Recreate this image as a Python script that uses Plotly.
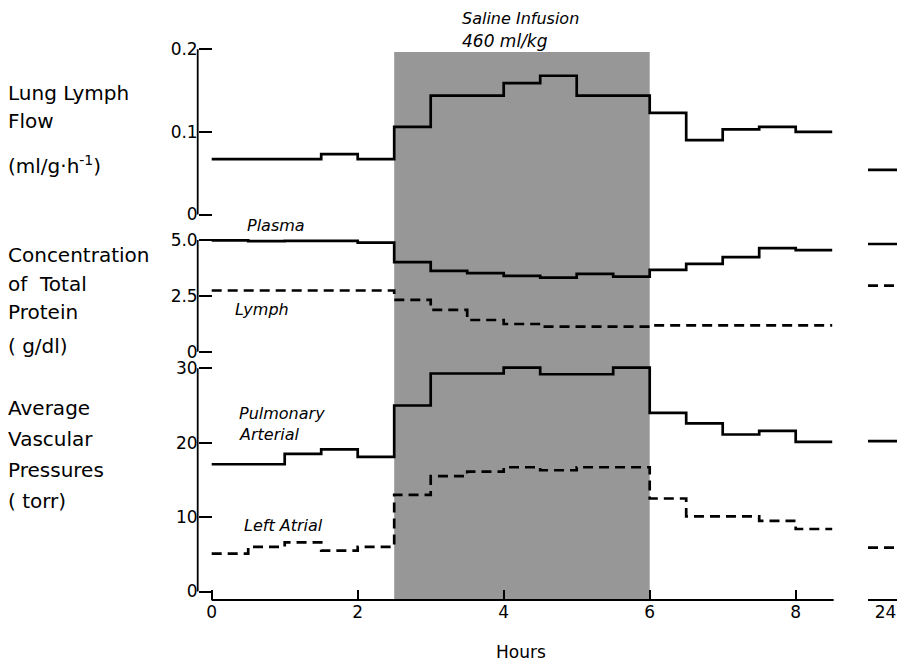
import plotly.graph_objects as go

# ---------------- data ----------------
# half-hour interval boundaries (hours)
hours = [0, 0.5, 1, 1.5, 2, 2.5, 3, 3.5, 4, 4.5, 5, 5.5, 6, 6.5, 7, 7.5, 8, 8.5]

# value held during each half-hour interval
lymph_flow = [0.067, 0.067, 0.067, 0.073, 0.067, 0.106, 0.144, 0.144, 0.159,
              0.168, 0.144, 0.144, 0.123, 0.090, 0.103, 0.106, 0.100]
plasma_protein = [4.98, 4.95, 4.96, 4.96, 4.88, 4.01, 3.62, 3.52, 3.39,
                  3.32, 3.48, 3.36, 3.66, 3.93, 4.23, 4.64, 4.55]
lymph_protein = [2.74, 2.74, 2.74, 2.74, 2.74, 2.32, 1.87, 1.42, 1.24,
                 1.12, 1.12, 1.12, 1.18, 1.18, 1.18, 1.18, 1.18]
pa_pressure = [17.1, 17.1, 18.5, 19.1, 18.1, 25.0, 29.3, 29.3, 30.1,
               29.2, 29.2, 30.1, 24.0, 22.6, 21.1, 21.6, 20.1]
la_pressure = [5.1, 6.0, 6.6, 5.5, 6.0, 13.0, 15.5, 16.1, 16.7,
               16.3, 16.7, 16.7, 12.5, 10.1, 10.1, 9.5, 8.4]

# values at 24 hours
day_24 = [24]
lymph_flow_24 = 0.054
plasma_protein_24 = 4.82
lymph_protein_24 = 2.96
pa_pressure_24 = 20.2
la_pressure_24 = 5.9

infusion_start, infusion_end = 2.5, 6.0
x_ticks = [0, 2, 4, 6, 8]
flow_ticks, flow_ticktext = [0, 0.1, 0.2], ["0", "0.1", "0.2"]
prot_ticks, prot_ticktext = [0, 2.5, 5], ["0", "2.5", "5.0"]
pres_ticks, pres_ticktext = [0, 10, 20, 30], ["0", "10", "20", "30"]

# ---------------- layout geometry ----------------
W, H = 905, 665
OFF = 8                          # page body margin that shifts the figure
FONT = "DejaVu Sans"
X0PX, PPX = 211.7, 73.0          # screen pixel of hour 0, pixels per hour
YAXIS_PX = 197.7                 # screen pixel x of the y-axis lines
XAXIS_PX = 600.0                 # screen pixel y of the x-axis line


def px_x(p):
    return (p - OFF) / W


def px_y(p):
    return 1 - (p - OFF) / H


def xdom(lo, hi):
    return [px_x(X0PX + lo * PPX), px_x(X0PX + hi * PPX)]


def ydom(lo, hi, v0, p0, v1, p1):
    ppu = (p0 - p1) / (v1 - v0)
    plo = p0 + (v0 - lo) * ppu
    phi = p0 - (hi - v0) * ppu
    return [px_y(plo), px_y(phi)]


def steps(vals):
    return hours, list(vals) + [vals[-1]]


fig = go.Figure()

SOLID = dict(color="black", width=2.7, shape="hv")
DASH = dict(color="black", width=2.7, shape="hv", dash="10px,6px")

series = [
    (lymph_flow, "y", SOLID),
    (plasma_protein, "y2", SOLID),
    (lymph_protein, "y2", DASH),
    (pa_pressure, "y3", SOLID),
    (la_pressure, "y3", DASH),
]
for vals, ya, ln in series:
    xs, ys = steps(vals)
    fig.add_trace(go.Scatter(x=xs, y=ys, mode="lines", line=ln,
                             xaxis="x", yaxis=ya, hoverinfo="skip"))

later = [
    (lymph_flow_24, "y", SOLID),
    (plasma_protein_24, "y2", SOLID),
    (lymph_protein_24, "y2", DASH),
    (pa_pressure_24, "y3", SOLID),
    (la_pressure_24, "y3", DASH),
]
for v, ya, ln in later:
    l2 = dict(ln)
    l2.pop("shape")
    fig.add_trace(go.Scatter(x=[day_24[0] - 0.5, day_24[0] + 0.5], y=[v, v],
                             mode="lines", line=l2, xaxis="x2", yaxis=ya,
                             hoverinfo="skip"))

# ---------------- axes ----------------
yax_common = dict(anchor="free", position=px_x(YAXIS_PX), showline=False,
                  showgrid=False, zeroline=False, ticks="inside", ticklen=13,
                  tickwidth=1.6, tickcolor="black", automargin=False,
                  tickfont=dict(family=FONT, size=17, color="black"))
xax_common = dict(anchor="free", position=px_y(XAXIS_PX), showline=False,
                  showgrid=False, zeroline=False, automargin=False,
                  tickfont=dict(family=FONT, size=17, color="black"))

r1 = [-0.003, 0.205]
r2 = [-0.1, 5.15]
r3 = [-0.5, 30.7]

fig.update_layout(
    template="none",
    width=W, height=H,
    margin=dict(l=0, r=0, t=0, b=0, pad=0, autoexpand=False),
    paper_bgcolor="white", plot_bgcolor="rgba(0,0,0,0)",
    showlegend=False,
    xaxis=dict(domain=xdom(-0.05, 8.6), range=[-0.05, 8.6], tickvals=x_ticks,
               ticks="inside", ticklen=10, tickwidth=1.6, tickcolor="black",
               **xax_common),
    xaxis2=dict(domain=[px_x(868), px_x(903)], range=[23.5, 24.5],
                tickvals=day_24, ticks="", **xax_common),
    yaxis=dict(domain=ydom(r1[0], r1[1], 0, 214.5, 0.2, 49.3), range=r1,
               tickvals=flow_ticks, ticktext=flow_ticktext, **yax_common),
    yaxis2=dict(domain=ydom(r2[0], r2[1], 0, 351.7, 5, 240.0), range=r2,
                tickvals=prot_ticks, ticktext=prot_ticktext, **yax_common),
    yaxis3=dict(domain=ydom(r3[0], r3[1], 0, 591.5, 30, 368.3), range=r3,
                tickvals=pres_ticks, ticktext=pres_ticktext, **yax_common),
)

shapes = [
    dict(type="rect", xref="x", yref="paper", x0=infusion_start, x1=infusion_end,
         y0=px_y(XAXIS_PX), y1=px_y(52), fillcolor="#979797",
         line=dict(width=0), layer="below"),
    dict(type="line", xref="x", yref="paper", x0=0, x1=8.52,
         y0=px_y(XAXIS_PX), y1=px_y(XAXIS_PX), line=dict(color="black", width=2)),
    dict(type="line", xref="x2", yref="paper", x0=23.5, x1=24.5,
         y0=px_y(XAXIS_PX), y1=px_y(XAXIS_PX), line=dict(color="black", width=2)),
]
for ya, top in (("y", 0.2), ("y2", 5), ("y3", 30)):
    shapes.append(dict(type="line", xref="paper", yref=ya,
                       x0=px_x(YAXIS_PX), x1=px_x(YAXIS_PX), y0=0, y1=top,
                       line=dict(color="black", width=1.8)))
fig.update_layout(shapes=shapes)

# ---------------- text ----------------
ann = []


def text(t, xp, yp, size=20, xanchor="left", italic=False):
    if italic:
        t = "<i>" + t + "</i>"
    ann.append(dict(text=t, x=px_x(xp), y=px_y(yp), xref="paper", yref="paper",
                    xanchor=xanchor, yanchor="middle", showarrow=False,
                    font=dict(family=FONT, size=size, color="black")))


for label, yp in (("Lung Lymph", 93), ("Flow", 121),
                  ("(ml/g\u00b7h<sup>-1</sup>)", 165),
                  ("Concentration", 255), ("of  Total", 284), ("Protein", 312),
                  ("( g/dl)", 346),
                  ("Average", 408), ("Vascular", 439), ("Pressures", 470),
                  ("( torr)", 501)):
    text(label, 6, yp)

text("Saline Infusion", 460, 18, size=16, italic=True)
text("460 ml/kg", 460, 41, size=17, italic=True)
text("Plasma", 245, 225, size=16, italic=True)
text("Lymph", 233, 310, size=16, italic=True)
text("Pulmonary", 237, 413, size=16, italic=True)
text("Arterial", 237, 434, size=16, italic=True)
text("Left Atrial", 242, 525, size=16, italic=True)
text("Hours", 521, 652, size=17, xanchor="center")

fig.update_layout(annotations=ann)

fig.write_html("out.html")
